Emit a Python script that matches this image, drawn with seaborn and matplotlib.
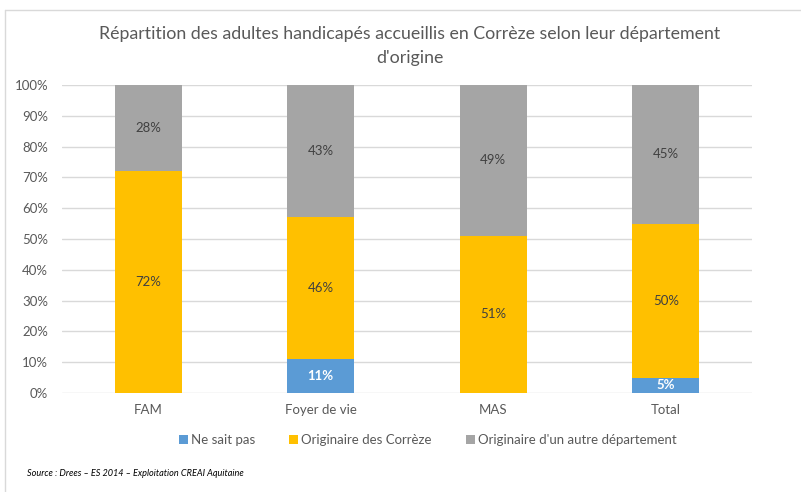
import pandas as pd
import numpy as np
import matplotlib.pyplot as plt
import seaborn as sns

categories = ['FAM', 'Foyer de vie', 'MAS', 'Total']
ne_sait_pas = [0, 11, 0, 5]
originaire_correze = [72, 46, 51, 50]
autre_departement = [28, 43, 49, 45]
series_names = ['Ne sait pas', 'Originaire des Corrèze', "Originaire d'un autre département"]
series_colors = ['#5B9BD5', '#FFC000', '#A5A5A5']
label_colors = ['white', '#404040', '#404040']

sns.set_style('white')
plt.rcParams['font.family'] = ['Lato', 'DejaVu Sans']

fig = plt.figure(figsize=(8.01, 4.92), dpi=100)
ax = fig.add_axes([62 / 801, 1 - 393 / 492, (752 - 62) / 801, (393 - 85) / 492])

df = pd.DataFrame({'cat': categories, 'a': ne_sait_pas, 'b': originaire_correze, 'c': autre_departement})
bottom = np.zeros(len(categories))
for col, name, color, lcol in zip(['a', 'b', 'c'], series_names, series_colors, label_colors):
    sns.barplot(data=df, x='cat', y=col, color=color, width=0.39, bottom=bottom,
                label=name, ax=ax, saturation=1, linewidth=0)
    for i, v in enumerate(df[col]):
        if v > 0:
            ax.text(i, bottom[i] + v / 2, f'{v}%', ha='center', va='center', fontsize=9.5,
                    color=lcol, fontweight='bold' if col == 'a' else 'normal')
    bottom = bottom + df[col].values

ax.set_ylim(0, 100)
ax.set_xlim(-0.5, 3.5)
ax.set_yticks(range(0, 101, 10))
ax.set_yticklabels([f'{t}%' for t in range(0, 101, 10)])
ax.yaxis.grid(True, color='#D9D9D9', linewidth=1)
ax.set_axisbelow(True)
for s in ax.spines.values():
    s.set_visible(False)
ax.tick_params(axis='both', length=0, labelsize=9.5, colors='#595959', pad=8)
ax.tick_params(axis='y', pad=10)
ax.set_xlabel('')
ax.set_ylabel('')

ax.legend(loc='upper center', bbox_to_anchor=(0.53, -0.095), ncol=3, frameon=False,
          fontsize=9.5, handlelength=0.7, handleheight=0.7, handletextpad=0.2,
          columnspacing=2.6, labelcolor='#595959')

fig.text(0.512, 1 - 46 / 492, 'Répartition des adultes handicapés accueillis en Corrèze selon leur département\nd\'origine',
         ha='center', va='center', fontsize=12.8, color='#595959', linespacing=1.65)
fig.text(27 / 801, 1 - 474 / 492, 'Source : Drees – ES 2014 – Exploitation CREAI Aquitaine',
         ha='left', va='center', fontsize=6.6, style='italic', color='black')

# chart frame
fig.add_artist(plt.Line2D([5 / 801, 1], [1 - 10 / 492, 1 - 10 / 492], color='#D9D9D9', lw=1))
fig.add_artist(plt.Line2D([5 / 801, 5 / 801], [0, 1 - 10 / 492], color='#D9D9D9', lw=1))

fig.savefig('out.png', dpi=100)
